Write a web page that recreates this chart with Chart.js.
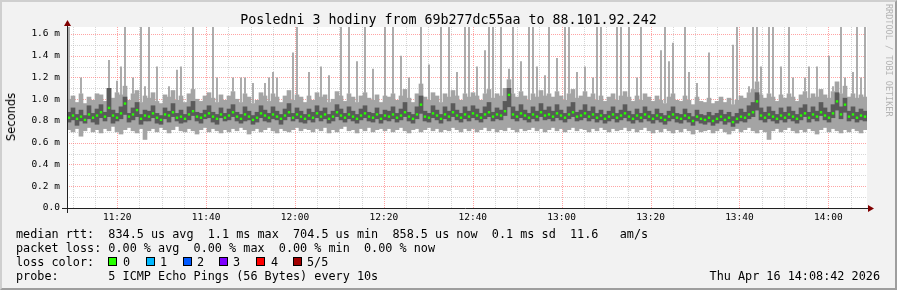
<!DOCTYPE html>
<html><head><meta charset="utf-8">
<script src="https://cdn.jsdelivr.net/npm/chart.js@4.4.1/dist/chart.umd.min.js"></script>
<style>
html,body{margin:0;padding:0;}
body{width:897px;height:290px;position:relative;overflow:hidden;background:#f2f2f2;}
#frame{position:absolute;left:0;top:0;width:897px;height:290px;box-sizing:border-box;border-top:2px solid #cfcfcf;border-left:2px solid #cfcfcf;border-right:2px solid #9e9e9e;border-bottom:2px solid #9e9e9e;pointer-events:none;z-index:5}
canvas{position:absolute;left:0;top:0;}
.t{position:absolute;font-family:'DejaVu Sans Mono',monospace;color:#000;white-space:pre;}
.lg{font-size:11.8px;line-height:14px;left:16px;}
.sq{position:absolute;width:9px;height:9px;box-sizing:border-box;border:1px solid #000;}
#title{left:0;width:897px;text-align:center;top:12px;font-size:13.3px;line-height:16px;}
#ylab{position:absolute;left:11px;top:117px;font-family:'DejaVu Sans',sans-serif;font-size:11.5px;color:#000;transform:translate(-50%,-50%) rotate(-90deg);white-space:nowrap;}
#wm{position:absolute;left:884px;top:4px;font-family:'DejaVu Sans Mono',monospace;font-size:8.5px;line-height:9px;color:#b4b4b4;writing-mode:vertical-rl;white-space:nowrap;}
</style>
</head><body>
<canvas id="c" width="897" height="290"></canvas>
<div id="title" class="t">Posledni 3 hodiny from 69b277dc55aa to 88.101.92.242</div>
<div id="ylab">Seconds</div>
<div id="wm">RRDTOOL / TOBI OETIKER</div>
<div class="t lg" style="top:227px">median rtt:  834.5 us avg  1.1 ms max  704.5 us min  858.5 us now  0.1 ms sd  11.6   am/s</div>
<div class="t lg" style="top:241px">packet loss: 0.00 % avg  0.00 % max  0.00 % min  0.00 % now</div>
<div class="t lg" style="top:255px">loss color:</div>
<div id="lossRow"></div>
<div class="t lg" style="top:269px">probe:       5 ICMP Echo Pings (56 Bytes) every 10s</div>
<div class="t lg" style="top:269px;left:auto;right:17px">Thu Apr 16 14:08:42 2026</div>
<div id="frame"></div>
<script>
// ---- time frame ----
const startSec = 11*3600 + 8*60 + 42;   // 11:08:42
const spanSec = 3*3600;
const colSec = 54;                        // seconds per column

// ---- round-trip times (ms), 5 sorted pings per column ----
const p1 = [
0.72,0.70,0.73,0.66,0.71,0.74,0.70,0.72,0.69,0.73,0.71,0.75,0.70,0.68,0.72,0.74,0.71,0.69,0.73,0.63,
0.71,0.73,0.70,0.74,0.72,0.69,0.72,0.75,0.71,0.70,0.73,0.71,0.68,0.72,0.74,0.70,0.73,0.71,0.69,0.72,
0.70,0.73,0.71,0.74,0.72,0.68,0.71,0.73,0.70,0.72,0.74,0.71,0.69,0.73,0.71,0.70,0.72,0.74,0.71,0.73,
0.72,0.70,0.73,0.71,0.74,0.69,0.72,0.70,0.73,0.75,0.71,0.72,0.69,0.73,0.71,0.74,0.70,0.72,0.73,0.71,
0.73,0.70,0.72,0.74,0.71,0.69,0.72,0.73,0.70,0.72,0.74,0.71,0.73,0.70,0.72,0.71,0.74,0.72,0.70,0.73,
0.71,0.73,0.70,0.72,0.74,0.71,0.73,0.70,0.72,0.71,0.74,0.72,0.70,0.73,0.71,0.72,0.74,0.71,0.73,0.70,
0.72,0.74,0.71,0.73,0.70,0.72,0.74,0.71,0.73,0.72,0.70,0.73,0.71,0.74,0.72,0.70,0.73,0.71,0.72,0.74,
0.71,0.73,0.70,0.72,0.74,0.71,0.69,0.72,0.70,0.73,0.71,0.69,0.72,0.70,0.73,0.71,0.68,0.72,0.70,0.71,
0.72,0.69,0.71,0.73,0.70,0.68,0.71,0.73,0.70,0.72,0.74,0.71,0.69,0.72,0.70,0.63,0.71,0.73,0.70,0.72,
0.74,0.71,0.69,0.72,0.70,0.73,0.71,0.68,0.72,0.74,0.70,0.73,0.71,0.69,0.72,0.70,0.73,0.71,0.69,0.72];
const p2 = [
0.79,0.81,0.76,0.80,0.78,0.82,0.79,0.77,0.83,0.80,0.84,0.78,0.80,0.82,0.86,0.79,0.81,0.84,0.77,0.80,
0.80,0.83,0.78,0.77,0.82,0.79,0.84,0.80,0.78,0.79,0.81,0.85,0.80,0.78,0.82,0.83,0.79,0.77,0.83,0.80,
0.81,0.84,0.80,0.78,0.80,0.81,0.77,0.79,0.83,0.80,0.79,0.82,0.81,0.77,0.81,0.84,0.80,0.82,0.79,0.78,
0.81,0.79,0.83,0.80,0.82,0.78,0.80,0.84,0.81,0.79,0.82,0.80,0.78,0.81,0.83,0.80,0.79,0.82,0.78,0.81,
0.80,0.82,0.79,0.81,0.84,0.80,0.78,0.82,0.87,0.80,0.79,0.83,0.81,0.78,0.82,0.80,0.84,0.81,0.79,0.82,
0.80,0.83,0.81,0.79,0.82,0.84,0.80,0.82,0.81,0.85,0.93,0.82,0.80,0.83,0.81,0.79,0.82,0.80,0.84,0.81,
0.82,0.80,0.83,0.81,0.79,0.82,0.84,0.80,0.81,0.83,0.80,0.82,0.79,0.81,0.78,0.80,0.82,0.79,0.81,0.83,
0.80,0.78,0.81,0.79,0.82,0.80,0.78,0.81,0.79,0.77,0.80,0.82,0.79,0.78,0.81,0.79,0.76,0.80,0.78,0.77,
0.79,0.76,0.78,0.80,0.77,0.79,0.75,0.78,0.80,0.79,0.82,0.84,0.90,0.81,0.79,0.82,0.80,0.78,0.81,0.79,
0.82,0.80,0.78,0.81,0.84,0.79,0.82,0.80,0.85,0.81,0.79,0.83,0.90,0.82,0.88,0.80,0.82,0.79,0.81,0.80];
const med = [
0.83,0.85,0.82,0.84,0.81,0.86,0.83,0.85,0.88,0.84,0.92,0.85,0.83,0.87,0.96,0.84,0.86,0.90,0.82,0.85,
0.84,0.87,0.83,0.81,0.86,0.85,0.88,0.83,0.84,0.82,0.86,0.89,0.84,0.83,0.85,0.87,0.84,0.82,0.86,0.83,
0.85,0.88,0.84,0.82,0.86,0.84,0.81,0.83,0.87,0.85,0.83,0.86,0.84,0.82,0.85,0.88,0.83,0.86,0.84,0.82,
0.85,0.83,0.87,0.84,0.86,0.82,0.84,0.88,0.85,0.83,0.86,0.84,0.82,0.85,0.87,0.84,0.83,0.86,0.82,0.85,
0.84,0.86,0.83,0.85,0.88,0.84,0.82,0.86,0.95,0.84,0.83,0.87,0.85,0.82,0.86,0.84,0.88,0.85,0.83,0.86,
0.84,0.87,0.85,0.83,0.86,0.88,0.84,0.86,0.85,0.89,1.04,0.86,0.84,0.87,0.85,0.83,0.86,0.84,0.88,0.85,
0.86,0.84,0.87,0.85,0.83,0.86,0.88,0.84,0.85,0.87,0.84,0.86,0.83,0.85,0.82,0.84,0.86,0.83,0.85,0.87,
0.84,0.82,0.85,0.83,0.86,0.84,0.82,0.85,0.83,0.81,0.84,0.86,0.83,0.82,0.85,0.83,0.80,0.84,0.82,0.81,
0.83,0.80,0.82,0.84,0.81,0.83,0.79,0.82,0.84,0.83,0.86,0.88,0.98,0.85,0.83,0.86,0.84,0.82,0.85,0.83,
0.86,0.84,0.82,0.85,0.87,0.83,0.86,0.84,0.88,0.85,0.83,0.87,0.98,0.86,0.95,0.84,0.86,0.83,0.85,0.84];
const p4 = [
0.88,0.92,0.86,0.90,0.85,0.94,0.87,0.91,0.95,0.88,1.10,0.90,0.87,0.93,1.02,0.87,0.92,0.97,0.86,0.90,
0.89,0.94,0.87,0.85,0.92,0.89,0.96,0.87,0.90,0.86,0.93,0.98,0.88,0.87,0.90,0.94,0.88,0.86,0.92,0.87,
0.91,0.95,0.88,0.86,0.93,0.89,0.85,0.88,0.94,0.90,0.87,0.93,0.89,0.86,0.91,0.96,0.87,0.92,0.89,0.86,
0.91,0.88,0.94,0.89,0.92,0.86,0.89,0.95,0.91,0.87,0.93,0.89,0.86,0.91,0.94,0.88,0.87,0.92,0.86,0.90,
0.89,0.93,0.87,0.91,0.97,0.88,0.86,0.93,1.03,0.89,0.87,0.94,0.90,0.86,0.93,0.89,0.96,0.90,0.87,0.93,
0.89,0.94,0.91,0.87,0.93,0.97,0.88,0.92,0.90,0.98,1.10,0.93,0.89,0.95,0.90,0.87,0.93,0.89,0.96,0.90,
0.93,0.89,0.95,0.90,0.87,0.93,0.97,0.88,0.90,0.95,0.89,0.93,0.87,0.90,0.86,0.89,0.93,0.87,0.90,0.95,
0.89,0.86,0.91,0.87,0.93,0.89,0.86,0.91,0.87,0.85,0.89,0.93,0.87,0.86,0.91,0.87,0.84,0.90,0.86,0.85,
0.88,0.85,0.87,0.90,0.86,0.88,0.84,0.87,0.91,0.88,0.94,0.97,1.06,0.92,0.88,0.93,0.89,0.86,0.92,0.88,
0.93,0.89,0.86,0.92,0.95,0.88,0.93,0.89,0.97,0.92,0.88,0.95,1.06,0.93,1.01,0.89,0.93,0.88,0.91,0.89];
const p5 = [
1.00,1.03,0.97,1.05,0.96,1.02,0.99,1.05,1.04,0.98,1.10,1.01,1.06,1.04,1.12,0.99,1.05,1.08,0.97,1.03,
1.01,1.06,0.98,0.96,1.04,1.02,1.08,0.99,1.03,0.97,1.05,1.09,1.00,0.98,1.03,1.06,1.01,0.97,1.04,0.99,
1.03,1.07,1.00,0.97,1.05,1.02,0.96,0.99,1.06,1.03,0.98,1.05,1.02,0.97,1.03,1.08,0.99,1.04,1.02,0.97,
1.03,0.99,1.06,1.02,1.04,0.97,1.00,1.07,1.03,0.98,1.05,1.02,0.97,1.03,1.06,1.01,0.99,1.04,0.97,1.03,
1.02,1.05,0.99,1.03,1.09,1.01,0.97,1.05,1.14,1.02,0.99,1.06,1.03,0.97,1.05,1.02,1.08,1.03,0.99,1.05,
1.02,1.06,1.03,0.99,1.05,1.09,1.01,1.05,1.03,1.10,1.18,1.05,1.02,1.07,1.03,0.99,1.05,1.02,1.08,1.03,
1.05,1.02,1.07,1.03,0.99,1.05,1.09,1.01,1.03,1.07,1.02,1.05,0.99,1.03,0.98,1.02,1.05,0.99,1.03,1.07,
1.02,0.98,1.03,0.99,1.05,1.02,0.98,1.03,0.99,0.96,1.02,1.05,0.99,0.98,1.03,0.99,0.95,1.02,0.98,0.97,
1.01,0.96,0.98,1.02,0.97,1.01,0.95,0.99,1.03,1.01,1.06,1.09,1.16,1.04,1.01,1.05,1.02,0.98,1.04,1.01,
1.05,1.02,0.98,1.04,1.07,1.01,1.05,1.02,1.09,1.04,1.01,1.07,1.16,1.05,1.12,1.02,1.05,1.01,1.04,1.02];
// ---- isolated slow pings: [column, rtt ms] ----
const spikes = [
[0,1.70],[3,1.20],[10,1.36],[12,1.17],[13,1.30],[14,1.70],[16,1.20],[18,1.70],[19,1.12],[20,1.70],
[22,1.30],[25,1.12],[27,1.27],[28,1.30],[31,1.70],[36,1.70],[37,1.20],[41,1.20],[43,1.20],[44,1.20],
[46,1.15],[49,1.15],[50,1.20],[51,1.25],[52,1.20],[56,1.43],[57,1.70],[60,1.25],[63,1.30],[65,1.22],
[68,1.70],[70,1.70],[72,1.35],[74,1.70],[76,1.28],[79,1.70],[81,1.70],[83,1.40],[85,1.20],[88,1.70],
[90,1.32],[93,1.70],[95,1.70],[97,1.25],[99,1.70],[100,1.70],[102,1.30],[104,1.45],[105,1.70],[106,1.70],
[108,1.70],[110,1.28],[111,1.70],[113,1.35],[115,1.70],[116,1.70],[117,1.30],[119,1.22],[120,1.70],[122,1.38],
[124,1.70],[125,1.70],[127,1.25],[129,1.30],[131,1.20],[132,1.70],[133,1.70],[137,1.70],[138,1.70],[140,1.70],
[142,1.20],[143,1.70],[148,1.45],[149,1.70],[150,1.35],[151,1.52],[154,1.70],[155,1.25],[157,1.15],[160,1.43],
[166,1.50],[167,1.70],[170,1.12],[171,1.70],[172,1.70],[173,1.30],[175,1.70],[176,1.70],[178,1.30],[180,1.70],
[181,1.20],[184,1.20],[185,1.30],[187,1.30],[190,1.40],[191,1.12],[193,1.70],[194,1.20],[196,1.25],[197,1.70],
[198,1.20],[199,1.70]];
// ---- axes ----
const yTickVals = [0,0.2,0.4,0.6,0.8,1.0,1.2,1.4,1.6];
const yMax = 1.664;
const lossLabels = ['0','1','2','3','4','5/5'];
const lossColors = ['#26ff00','#00b8ff','#0059ff','#7e00ff','#ff0000','#a10000'];

// loss colour legend
(function(){
  const row = document.getElementById('lossRow');
  const sqX = [108,146,183,219,256,293];
  const lbX = [123,160,197,233,271,307];
  lossLabels.forEach((l,i)=>{
    const s = document.createElement('div'); s.className='sq';
    s.style.left = sqX[i]+'px'; s.style.top='257px'; s.style.background = lossColors[i];
    row.appendChild(s);
    const t = document.createElement('div'); t.className='t lg';
    t.style.left = lbX[i]+'px'; t.style.top='255px'; t.textContent = l;
    row.appendChild(t);
  });
})();

const fmt = s => { const a = s + startSec; const h = Math.floor(a/3600), m = Math.floor((a%3600)/60); return String(h).padStart(2,'0')+':'+String(m).padStart(2,'0'); };
const xGrid = [];
for (let s = Math.ceil(startSec/300)*300; s <= startSec+spanSec; s += 300) xGrid.push({v: s-startSec, major: s % 1200 === 0});
const xMajorVals = xGrid.filter(g=>g.major).map(g=>g.v);

const xs = p1.map((_, i) => (i + 0.5) * colSec);
const GRID = 'rgba(180,180,180,0.55)', MGRID = 'rgba(255,90,90,0.55)';

const rrdPlugin = {
  id: 'rrd',
  beforeDraw(chart){
    const {ctx, chartArea:a} = chart;
    ctx.save(); ctx.fillStyle = '#ffffff';
    ctx.fillRect(a.left, a.top, a.right-a.left, a.bottom-a.top); ctx.restore();
  },
  beforeDatasetsDraw(chart){
    const {ctx, chartArea:a, scales:{x, y}} = chart;
    ctx.save(); ctx.lineWidth = 1; ctx.setLineDash([1,1]);
    xGrid.forEach(g=>{
      const px = Math.round(x.getPixelForValue(g.v)) + 0.5;
      ctx.strokeStyle = g.major ? MGRID : GRID;
      ctx.beginPath(); ctx.moveTo(px, a.top); ctx.lineTo(px, a.bottom); ctx.stroke();
    });
    for (let k = 1; k <= 16; k++) {
      const py = Math.round(y.getPixelForValue(k/10)) + 0.5;
      ctx.strokeStyle = (k % 2 === 0) ? MGRID : GRID;
      ctx.beginPath(); ctx.moveTo(a.left, py); ctx.lineTo(a.right, py); ctx.stroke();
    }
    ctx.restore();
  },
  afterDatasetsDraw(chart){
    const {ctx, chartArea:a, scales:{x, y}} = chart;
    const y0 = Math.round(y.getPixelForValue(0)) + 0.5;
    const x0 = Math.round(x.getPixelForValue(0)) + 0.5;
    ctx.save(); ctx.setLineDash([]); ctx.lineWidth = 1; ctx.strokeStyle = '#212121';
    ctx.beginPath(); ctx.moveTo(a.left-5, y0); ctx.lineTo(a.right+2, y0); ctx.stroke();
    ctx.beginPath(); ctx.moveTo(x0, a.bottom+5); ctx.lineTo(x0, a.top-3); ctx.stroke();
    ctx.fillStyle = '#800000';
    ctx.beginPath(); ctx.moveTo(a.right+1, y0-3.5); ctx.lineTo(a.right+7, y0); ctx.lineTo(a.right+1, y0+3.5); ctx.closePath(); ctx.fill();
    ctx.beginPath(); ctx.moveTo(x0-3.5, a.top-1); ctx.lineTo(x0, a.top-7); ctx.lineTo(x0+3.5, a.top-1); ctx.closePath(); ctx.fill();
    ctx.restore();
  }
};

new Chart(document.getElementById('c'), {
  type: 'bar',
  data: { datasets: [
    { label:'median', data: xs.map((x,i)=>({x, y:[med[i]-0.011, med[i]+0.011]})), backgroundColor:'#26ff00', barPercentage:0.6, categoryPercentage:1, grouped:false, order:1, borderWidth:0 },
    { label:'ping2-4', data: xs.map((x,i)=>({x, y:[p2[i], p4[i]]})), backgroundColor:'#5a5a5a', barPercentage:1, categoryPercentage:1, grouped:false, order:2, borderWidth:0 },
    { label:'spikes', data: spikes.map(([c,v])=>({x: xs[c], y:[p5[c], v]})), backgroundColor:'#a4a4a4', barPercentage:0.45, categoryPercentage:1, grouped:false, order:3, borderWidth:0 },
    { label:'ping1-5', data: xs.map((x,i)=>({x, y:[p1[i], p5[i]]})), backgroundColor:'#a4a4a4', barPercentage:1, categoryPercentage:1, grouped:false, order:4, borderWidth:0 }
  ]},
  options: {
    responsive:false, animation:false, events:[],
    layout:{ padding:{left:0, right:30, top:27, bottom:52} },
    plugins:{ legend:{display:false}, tooltip:{enabled:false}, title:{display:false} },
    scales:{
      x:{ type:'linear', min:0, max:spanSec, offset:false,
          grid:{display:false, drawTicks:false, offset:false}, border:{display:false},
          afterBuildTicks: s => { s.ticks = xMajorVals.map(v=>({value:v})); },
          afterFit: s => { s.height = 30; },
          ticks:{ autoSkip:false, maxRotation:0, padding:4, color:'#000', font:{family:'DejaVu Sans Mono', size:9.5}, callback: v => fmt(v) } },
      y:{ type:'linear', min:0, max:yMax,
          grid:{display:false, drawTicks:false}, border:{display:false},
          afterBuildTicks: s => { s.ticks = yTickVals.map(v=>({value:v})); },
          afterFit: s => { s.width = 67; },
          ticks:{ padding:7, color:'#000', font:{family:'DejaVu Sans Mono', size:9.5}, callback: v => v === 0 ? '0.0' : v.toFixed(1)+' m' } }
    }
  },
  plugins:[rrdPlugin]
});
</script>
</body></html>
